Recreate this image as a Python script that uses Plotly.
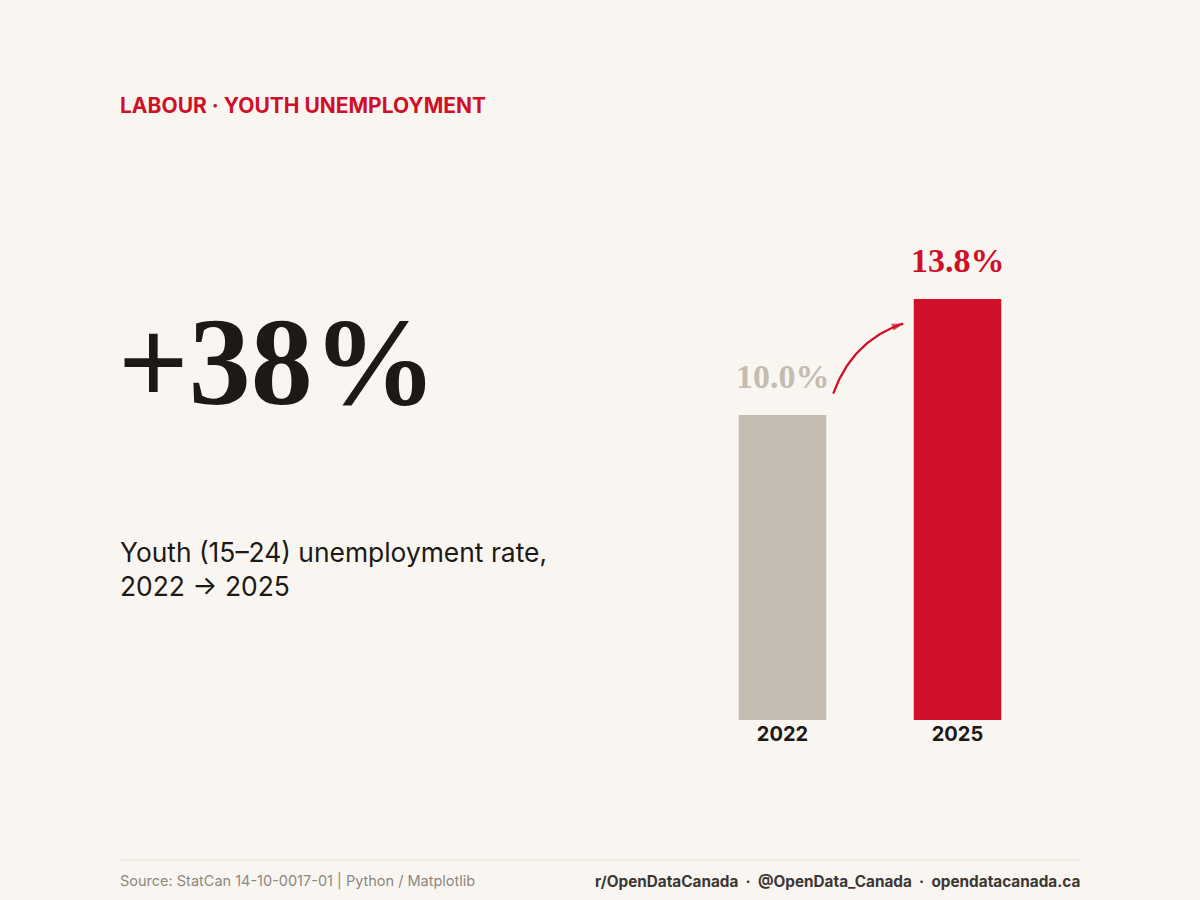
import numpy as np
import plotly.graph_objects as go

# data
years = ["2022", "2025"]
rates = [10.0, 13.8]
labels = ["10.0%", "13.8%"]
change_label = "+38%"

BG = "#f9f6f1"
RED = "#cf1028"
GREY = "#c4bcb0"
INK = "#1c1916"

bar_colors = [GREY, RED]

fig = go.Figure()

fig.add_trace(go.Bar(
    x=[0, 1],
    y=rates,
    width=0.5,
    marker=dict(color=bar_colors, line=dict(width=0)),
    hoverinfo="skip",
))

# curved arrow from the 2022 label to the 2025 bar
x0, y0 = 0.29, rates[0] + 0.7
x1, y1 = 0.69, rates[1] - 0.8
cx, cy = x0 + 0.11, y1 - 0.55
t = np.linspace(0, 1, 40)
ax_ = (1 - t) ** 2 * x0 + 2 * (1 - t) * t * cx + t ** 2 * x1
ay_ = (1 - t) ** 2 * y0 + 2 * (1 - t) * t * cy + t ** 2 * y1
sizes = [0] * (len(t) - 1) + [12]
fig.add_trace(go.Scatter(
    x=ax_, y=ay_, mode="lines+markers",
    line=dict(color=RED, width=2.3),
    marker=dict(symbol="arrow", size=sizes, color=RED, angleref="previous",
                line=dict(width=0)),
    hoverinfo="skip",
))

# value labels above bars
for i, (v, lab) in enumerate(zip(rates, labels)):
    fig.add_annotation(
        x=i, y=v, xref="x", yref="y", text=f"<b>{lab}</b>", showarrow=False,
        yanchor="bottom", yshift=18,
        font=dict(family="Liberation Serif", size=34, color=bar_colors[i]),
    )

# left-hand text
fig.add_annotation(
    x=0.098, y=1 - 106 / 900, xref="paper", yref="paper", xanchor="left", yanchor="middle",
    text="<b>LABOUR · YOUTH UNEMPLOYMENT</b>", showarrow=False,
    font=dict(family="Inter", size=21, color=RED),
)
fig.add_annotation(
    x=0.097, y=1 - 362 / 900, xref="paper", yref="paper", xanchor="left", yanchor="middle",
    text=f"<b>{change_label}</b>", showarrow=False,
    font=dict(family="Liberation Serif", size=124, color=INK),
)
fig.add_annotation(
    x=0.098, y=1 - 569 / 900, xref="paper", yref="paper", xanchor="left", yanchor="middle",
    text="Youth (15–24) unemployment rate,<br>2022 → 2025", showarrow=False, align="left",
    font=dict(family="Inter", size=26.4, color=INK),
)

# footer
fig.add_shape(type="line", xref="paper", yref="paper", x0=0.1, x1=0.9,
              y0=1 - 860 / 900, y1=1 - 860 / 900, line=dict(color="#e2ded7", width=1))
fig.add_annotation(
    x=0.098, y=1 - 881 / 900, xref="paper", yref="paper", xanchor="left", yanchor="middle",
    text="Source: StatCan 14-10-0017-01 | Python / Matplotlib", showarrow=False,
    font=dict(family="Inter", size=14.5, color="#8c877f"),
)
fig.add_annotation(
    x=0.902, y=1 - 881 / 900, xref="paper", yref="paper", xanchor="right", yanchor="middle",
    text="<b>r/OpenDataCanada  ·  @OpenData_Canada  ·  opendatacanada.ca</b>", showarrow=False,
    font=dict(family="Inter", size=15.3, color="#3b3733"),
)

fig.update_layout(
    width=1200, height=900,
    margin=dict(l=0, r=0, t=0, b=0),
    paper_bgcolor=BG, plot_bgcolor=BG,
    showlegend=False,
    xaxis=dict(
        domain=[695 / 1200, 1045 / 1200], range=[-0.5, 1.5],
        tickvals=[0, 1], ticktext=[f"<b>{y}</b>" for y in years],
        tickfont=dict(family="Inter", size=20, color=INK),
        showgrid=False, zeroline=False, showline=False, ticks="",
        ticklabelstandoff=0,
    ),
    yaxis=dict(
        domain=[0.2, 1 - 240 / 900], range=[0, 480 / 30.5],
        visible=False, showgrid=False, zeroline=False,
    ),
)

fig.write_html("out.html", config={"displayModeBar": False},
               post_script="document.body.style.margin='0';document.body.style.background='" + BG + "';")
